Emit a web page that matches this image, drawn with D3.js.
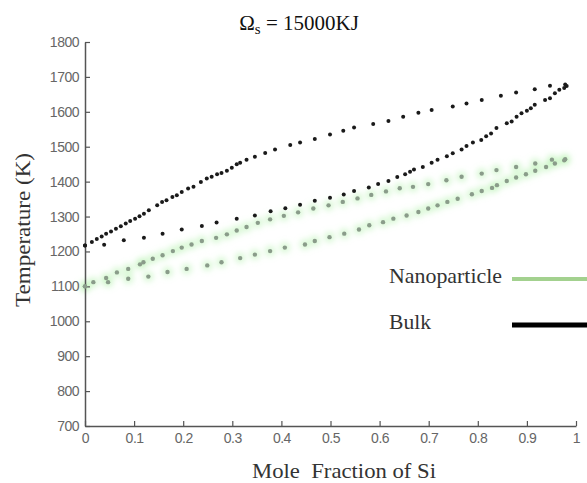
<!DOCTYPE html>
<html>
<head>
<meta charset="utf-8">
<script src="https://cdn.jsdelivr.net/npm/d3@7"></script>
<style>
html,body{margin:0;padding:0;background:#fff;}
svg{display:block;}
</style>
</head>
<body>
<svg id="chart" width="587" height="483"></svg>
<script>
// ---- data ----
const xTicks = [0, 0.1, 0.2, 0.3, 0.4, 0.5, 0.6, 0.7, 0.8, 0.9, 1];
const xTickLabels = ["0", "0.1", "0.2", "0.3", "0.4", "0.5", "0.6", "0.7", "0.8", "0.9", "1"];
const yTicks = [700, 800, 900, 1000, 1100, 1200, 1300, 1400, 1500, 1600, 1700, 1800];
const yTickLabels = ["700", "800", "900", "1000", "1100", "1200", "1300", "1400", "1500", "1600", "1700", "1800"];
const legendLabels = ["Nanoparticle", "Bulk"];

// Bulk, upper curve: [mole fraction, temperature]
const bulkUpper = [
  [0.0,1217],[0.014,1227],[0.024,1236],[0.034,1243],[0.043,1251],[0.053,1257],[0.063,1265],
  [0.073,1272],[0.083,1280],[0.092,1287],[0.102,1294],[0.111,1301],[0.120,1308],[0.130,1318],
  [0.147,1332],[0.157,1342],[0.166,1347],[0.178,1356],[0.187,1361],[0.197,1370],[0.210,1380],
  [0.221,1385],[0.236,1399],[0.248,1409],[0.258,1414],[0.269,1421],[0.278,1425],[0.289,1431],
  [0.299,1440],[0.309,1450],[0.316,1454],[0.329,1463],[0.346,1471],[0.367,1482],[0.387,1492],
  [0.418,1505],[0.438,1512],[0.468,1522],[0.499,1535],[0.526,1546],[0.548,1555],[0.587,1565],
  [0.618,1574],[0.648,1586],[0.679,1597],[0.706,1605],[0.749,1615],[0.777,1624],[0.808,1634],
  [0.847,1646],[0.878,1655],[0.916,1665],[0.947,1675],[0.978,1678]
];
// Bulk, lower curve
const bulkLower = [
  [0.0,1217],[0.039,1219],[0.079,1232],[0.120,1239],[0.158,1251],[0.197,1263],[0.238,1273],
  [0.268,1283],[0.309,1294],[0.346,1303],[0.378,1315],[0.408,1324],[0.438,1334],[0.468,1345],
  [0.499,1354],[0.527,1363],[0.548,1373],[0.578,1383],[0.597,1393],[0.618,1402],[0.636,1413],
  [0.652,1421],[0.662,1428],[0.670,1435],[0.688,1442],[0.706,1454],[0.718,1463],[0.737,1473],
  [0.749,1481],[0.767,1492],[0.777,1502],[0.790,1512],[0.807,1519],[0.817,1530],[0.827,1538],
  [0.838,1554],[0.859,1567],[0.869,1572],[0.879,1586],[0.889,1596],[0.900,1603],[0.908,1610],
  [0.916,1620],[0.937,1634],[0.947,1639],[0.957,1653],[0.966,1663],[0.976,1668],[0.981,1674]
];
// Nanoparticle, upper curve
const nanoUpper = [
  [0.0,1100],[0.017,1112],[0.043,1124],[0.065,1140],[0.088,1150],[0.112,1163],[0.119,1169],
  [0.138,1179],[0.158,1189],[0.179,1201],[0.197,1211],[0.217,1220],[0.238,1230],[0.267,1239],
  [0.289,1249],[0.309,1260],[0.329,1270],[0.352,1282],[0.377,1292],[0.405,1302],[0.434,1312],
  [0.465,1323],[0.496,1332],[0.525,1342],[0.555,1352],[0.583,1362],[0.613,1372],[0.641,1381],
  [0.668,1385],[0.699,1393],[0.736,1404],[0.767,1414],[0.808,1423],[0.838,1433],[0.878,1442],
  [0.917,1452],[0.951,1463],[0.978,1464]
];
// Nanoparticle, lower curve
const nanoLower = [
  [0.0,1100],[0.047,1112],[0.088,1122],[0.129,1128],[0.168,1141],[0.207,1150],[0.249,1160],
  [0.278,1169],[0.316,1181],[0.346,1191],[0.377,1201],[0.407,1211],[0.448,1220],[0.468,1230],
  [0.498,1241],[0.528,1251],[0.558,1263],[0.579,1275],[0.607,1284],[0.628,1294],[0.655,1303],
  [0.679,1313],[0.699,1323],[0.718,1332],[0.738,1342],[0.759,1351],[0.788,1364],[0.808,1373],
  [0.829,1382],[0.839,1390],[0.859,1402],[0.878,1412],[0.898,1421],[0.917,1431],[0.939,1442],
  [0.957,1452],[0.976,1461]
];

// ---- drawing ----
const svg = d3.select("#chart");
const x = d3.scaleLinear().domain([0, 1]).range([85, 576]);
const y = d3.scaleLinear().domain([700, 1800]).range([426, 42]);

const serif = "'Liberation Serif','Times New Roman',serif";
const sans = "'Liberation Sans',Arial,sans-serif";

// title
const title = svg.append("text")
  .attr("x", 299).attr("y", 30)
  .attr("text-anchor", "middle")
  .attr("font-family", serif).attr("font-size", 21)
  .attr("fill", "#111");
title.append("tspan").text("\u03A9");
title.append("tspan").attr("font-size", 15).attr("dy", 4).text("s");
title.append("tspan").attr("dy", -4).text(" = 15000KJ");

// soft green glow around nanoparticle points
const defs = svg.append("defs");
defs.append("filter").attr("id", "blur").attr("x", "-50%").attr("y", "-50%")
  .attr("width", "200%").attr("height", "200%")
  .append("feGaussianBlur").attr("stdDeviation", 3);
const glow = svg.append("g").attr("filter", "url(#blur)");
[nanoUpper, nanoLower].forEach(s => {
  glow.selectAll(null).data(s).enter().append("circle")
    .attr("cx", d => x(d[0])).attr("cy", d => y(d[1]))
    .attr("r", 5).attr("fill", "#a8f0a0").attr("opacity", 0.5);
});

// axes
const yAxis = d3.axisLeft(y).tickValues(yTicks).tickFormat((d, i) => yTickLabels[i])
  .tickSizeInner(-5).tickSizeOuter(0).tickPadding(6);
const xAxis = d3.axisBottom(x).tickValues(xTicks).tickFormat((d, i) => xTickLabels[i])
  .tickSizeInner(-5).tickSizeOuter(0).tickPadding(7);

const gy = svg.append("g").attr("transform", "translate(85,0)").call(yAxis);
const gx = svg.append("g").attr("transform", "translate(0,426)").call(xAxis);
[gy, gx].forEach(g => {
  g.select(".domain").attr("stroke", "#555").attr("stroke-width", 1.5);
  g.selectAll(".tick line").attr("stroke", "#555").attr("stroke-width", 1.2);
  g.selectAll(".tick text").attr("font-family", sans).attr("font-size", 14)
    .attr("fill", "#666").attr("letter-spacing", -0.5);
});

// axis titles
svg.append("text")
  .attr("transform", "translate(30,230) rotate(-90)")
  .attr("text-anchor", "middle")
  .attr("font-family", serif).attr("font-size", 22).attr("fill", "#333")
  .attr("textLength", 154).attr("lengthAdjust", "spacingAndGlyphs")
  .text("Temperature (K)");
svg.append("text")
  .attr("x", 344).attr("y", 478)
  .attr("text-anchor", "middle")
  .attr("font-family", serif).attr("font-size", 22).attr("fill", "#333")
  .attr("xml:space", "preserve")
  .attr("textLength", 184).attr("lengthAdjust", "spacingAndGlyphs")
  .text("Mole  Fraction of Si");

// points
const pts = svg.append("g");
[bulkUpper, bulkLower].forEach(s => {
  pts.selectAll(null).data(s).enter().append("circle")
    .attr("cx", d => x(d[0])).attr("cy", d => y(d[1]))
    .attr("r", 2).attr("fill", "#1a1a1a");
});
[nanoUpper, nanoLower].forEach(s => {
  pts.selectAll(null).data(s).enter().append("circle")
    .attr("cx", d => x(d[0])).attr("cy", d => y(d[1]))
    .attr("r", 2.2).attr("fill", "#8a9c8a");
});

// legend
const legend = svg.append("g");
const legendColors = ["#a3d18f", "#000"];
const legendY = [279, 325];
const legendW = [4, 5];
const legendTextW = [113, 42];
legendLabels.forEach((lab, i) => {
  legend.append("text")
    .attr("x", 389).attr("y", legendY[i] + 4)
    .attr("font-family", serif).attr("font-size", 21).attr("fill", "#333")
    .attr("textLength", legendTextW[i]).attr("lengthAdjust", "spacingAndGlyphs")
    .text(lab);
  legend.append("line")
    .attr("x1", 512).attr("x2", 590)
    .attr("y1", legendY[i]).attr("y2", legendY[i])
    .attr("stroke", legendColors[i]).attr("stroke-width", legendW[i]);
});
</script>
</body>
</html>
